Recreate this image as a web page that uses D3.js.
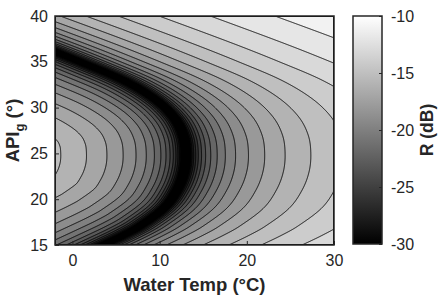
<!DOCTYPE html>
<html>
<head>
<meta charset="utf-8">
<script src="https://cdn.jsdelivr.net/npm/d3@7"></script>
<style>
  body { margin: 0; background: #fff; }
  text { font-family: "Liberation Sans", Arial, sans-serif; fill: #262626; }
</style>
</head>
<body>
<svg id="chart" width="439" height="301"></svg>
<script>
// ticks
const tempTicks  = [0, 10, 20, 30];
const apiTicks   = [15, 20, 25, 30, 35, 40];
const colorTicks = [-30, -25, -20, -15, -10];
const levels     = [-30, -29, -28, -27, -26, -25, -24, -23, -22, -21, -20,
                    -19, -18, -17, -16, -15, -14, -13, -12, -11, -10];

// zero-reflection curve: API_g -> water temp (°C)
const zeroApi  = [12, 15, 16, 17, 19, 21, 23, 25, 27, 29, 31, 33, 35, 37, 40, 43];
const zeroTemp = [-3.2, 3.6, 5.8, 7.7, 10.5, 12.0, 12.8, 13.0, 12.7, 11.6, 9.4, 5.9, 1.0, -4.3, -12.8, -21.5];
const mismatch = 2.205e-3; // gain per °C away from the curve
const apiWeight = 2.0;     // °C equivalent of one °API (cold side)

const margin = {left: 55, top: 16, width: 279, height: 229};

const x = d3.scaleLinear().domain([-2, 30]).range([0, margin.width]);
const y = d3.scaleLinear().domain([15, 40]).range([margin.height, 0]);
const gray = d3.scaleLinear().domain([-30, -10]).range(["#000", "#fff"]).clamp(true);

function tangent(i) {
  const n = zeroApi.length;
  const a = Math.max(i - 1, 0), b = Math.min(i + 1, n - 1);
  return (zeroTemp[b] - zeroTemp[a]) / (zeroApi[b] - zeroApi[a]);
}

function zeroCurve(api) {
  let i = d3.bisectRight(zeroApi, api) - 1;
  i = Math.max(0, Math.min(zeroApi.length - 2, i));
  const h = zeroApi[i + 1] - zeroApi[i];
  const t = (api - zeroApi[i]) / h;
  const t2 = t * t, t3 = t2 * t;
  return (2*t3 - 3*t2 + 1) * zeroTemp[i] + (t3 - 2*t2 + t) * h * tangent(i)
       + (-2*t3 + 3*t2) * zeroTemp[i + 1] + (t3 - t2) * h * tangent(i + 1);
}

function buildGrid(nx, ny) {
  const curve = [];
  for (let a = zeroApi[0]; a <= zeroApi[zeroApi.length - 1]; a += 0.05) {
    curve.push([zeroCurve(a), a * apiWeight]);
  }
  const values = new Array(nx * ny);
  for (let j = 0; j < ny; j++) {
    const apiRaw = y.invert(j + 0.5);
    const api = apiRaw * apiWeight;
    const t0 = zeroCurve(apiRaw);
    for (let i = 0; i < nx; i++) {
      const temp = x.invert(i + 0.5);
      let dist;
      if (temp >= t0) {
        dist = temp - t0; // warm side: offset along temperature
      } else {
        let best = Infinity; // cold side: nearest point of the curve
        for (const [ct, ca] of curve) {
          const dt = temp - ct, da = api - ca;
          const d2 = dt * dt + da * da;
          if (d2 < best) best = d2;
        }
        dist = Math.sqrt(best);
      }
      values[j * nx + i] = 10 * Math.log10(Math.max(mismatch * dist, 1e-6));
    }
  }
  return values;
}

const svg = d3.select("#chart");
const nx = margin.width, ny = margin.height;
const bands = d3.contours().size([nx, ny]).thresholds(levels)(buildGrid(nx, ny));
const path = d3.geoPath(d3.geoIdentity());

svg.append("clipPath").attr("id", "clip")
  .append("rect").attr("width", margin.width).attr("height", margin.height);

const plot = svg.append("g").attr("transform", `translate(${margin.left},${margin.top})`);
const field = plot.append("g").attr("clip-path", "url(#clip)");

field.append("rect")
  .attr("width", margin.width).attr("height", margin.height)
  .attr("fill", "#000");

field.selectAll("path.band")
  .data(bands)
  .join("path")
    .attr("class", "band")
    .attr("d", path)
    .attr("fill", d => gray(d.value));

field.selectAll("path.line")
  .data(bands)
  .join("path")
    .attr("class", "line")
    .attr("d", path)
    .attr("fill", "none")
    .attr("stroke", "#000")
    .attr("stroke-width", 0.9);

// axes, ticks pointing inwards
const xAxis = plot.append("g")
  .attr("transform", `translate(0,${margin.height})`)
  .call(d3.axisBottom(x).tickValues(tempTicks).tickSize(-4).tickPadding(10));
const yAxis = plot.append("g")
  .call(d3.axisLeft(y).tickValues(apiTicks).tickSize(-4).tickPadding(7));

[xAxis, yAxis].forEach(a => {
  a.select(".domain").remove();
  a.selectAll("line").attr("stroke", "#262626");
  a.selectAll("text").attr("font-size", 16).attr("fill", "#262626")
    .style("font-family", '"Liberation Sans", Arial, sans-serif');
});

plot.append("rect")
  .attr("width", margin.width).attr("height", margin.height)
  .attr("fill", "none").attr("stroke", "#262626").attr("stroke-width", 1.5);

// axis labels
svg.append("text")
  .attr("x", margin.left + margin.width / 2).attr("y", 291)
  .attr("text-anchor", "middle")
  .attr("font-size", 18.5).attr("font-weight", "bold")
  .text("Water Temp (°C)");

const yLabel = svg.append("text")
  .attr("transform", `translate(19,${margin.top + margin.height / 2}) rotate(-90)`)
  .attr("text-anchor", "middle")
  .attr("font-size", 18.5).attr("font-weight", "bold");
yLabel.append("tspan").text("API");
yLabel.append("tspan").attr("dy", 5).attr("font-size", 13).text("g");
yLabel.append("tspan").attr("dy", -5).text(" (°)");

// colorbar
const cb = {left: 353, top: 16, width: 29, height: 228};
const cScale = d3.scaleLinear().domain([-30, -10]).range([cb.height, 0]);

const grad = svg.append("defs").append("linearGradient")
  .attr("id", "cgrad").attr("x1", 0).attr("y1", 1).attr("x2", 0).attr("y2", 0);
grad.append("stop").attr("offset", 0).attr("stop-color", gray(-30));
grad.append("stop").attr("offset", 1).attr("stop-color", gray(-10));

const cbar = svg.append("g").attr("transform", `translate(${cb.left},${cb.top})`);
cbar.append("rect")
  .attr("width", cb.width).attr("height", cb.height)
  .attr("fill", "url(#cgrad)");

const cAxis = cbar.append("g")
  .attr("transform", `translate(${cb.width},0)`)
  .call(d3.axisRight(cScale).tickValues(colorTicks).tickSize(-3).tickPadding(9)
        .tickFormat(d => d));
cAxis.select(".domain").remove();
cAxis.selectAll("line").attr("stroke", "#262626");
cAxis.selectAll("text").attr("font-size", 16).attr("fill", "#262626")
  .style("font-family", '"Liberation Sans", Arial, sans-serif');

cbar.append("rect")
  .attr("width", cb.width).attr("height", cb.height)
  .attr("fill", "none").attr("stroke", "#262626").attr("stroke-width", 1.5);

svg.append("text")
  .attr("transform", `translate(433,${cb.top + cb.height / 2}) rotate(-90)`)
  .attr("text-anchor", "middle")
  .attr("font-size", 17.5).attr("font-weight", "bold")
  .text("R (dB)");
</script>
</body>
</html>
